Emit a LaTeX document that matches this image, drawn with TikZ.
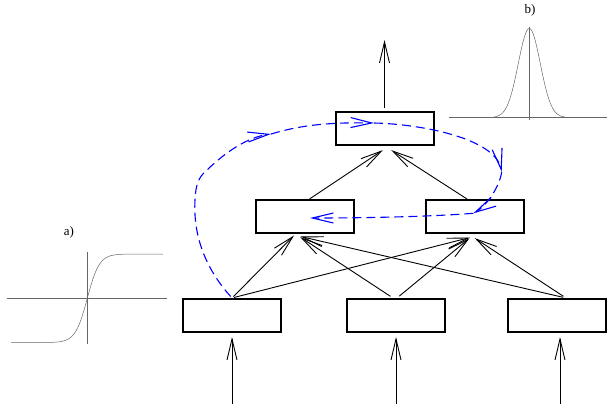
\documentclass[tikz,border=0pt]{standalone}
\usepackage{fontspec}
\setmainfont{Liberation Serif}
\usetikzlibrary{arrows.meta}
\newcommand\XA{232}
\newcommand\XB{396}
\newcommand\XC{557}
\newcommand\XL{304.5}
\newcommand\XR{475}
\newcommand\XT{384.5}
\newcommand\YI{315.5}
\newcommand\YH{216.5}
\newcommand\YO{128.5}

\begin{document}
\begin{tikzpicture}
  [x=1pt, y=-1pt,
   >={Straight Barb[length=21pt, width=10pt]},
   unitbox/.style = {
     draw, line width=2pt, inner sep=0pt,
     minimum width=98pt, minimum height=33pt
   },
   wire/.style = {
     line width=0.9pt
   },
   feedback/.style = {
     draw=blue, line width=1.1pt, dash pattern=on 9pt off 5pt
   },
   curve/.style = {
     draw=black!60, line width=0.5pt
   },
   plotlabel/.style = {
     font=\fontsize{13}{15}\selectfont
   }]

  \useasboundingbox (0,0) rectangle (607,412);

  % Input layer.
  \node[unitbox] at (\XA, \YI) (in1) {};
  \node[unitbox] at (\XB, \YI) (in2) {};
  \node[unitbox] at (\XC, \YI) (in3) {};

  % Hidden layer.
  \node[unitbox] at (\XL, \YH) (hid1) {};
  \node[unitbox] at (\XR, \YH) (hid2) {};

  % Output unit.
  \node[unitbox] at (\XT, \YO) (out) {};

  \coordinate (x1) at (\XA, 404);
  \coordinate (x2) at (\XB, 404);
  \coordinate (x3) at (\XC+3, 404);
  \coordinate (y) at (\XT, 40);

	% Draw all vertical wires.
	\draw[wire, ->, shorten >=4pt] (x1) -- (x1 |- in1.south);
	\draw[wire, ->, shorten >=4pt] (x2) -- (x2 |- in2.south);
	\draw[wire, ->, shorten >=4pt] (x3) -- (x3 |- in3.south);
	\draw[wire, ->, shorten <=3pt] (out) -- (y);

	% Input to hidden.
	\draw[wire, ->, shorten <=2pt, shorten >=2pt] (in1.north) -- ([xshift=-9pt]hid1.south);
	\draw[wire, ->, shorten <=3pt, shorten >=2pt] ([xshift=-3pt]in2.north) -- ([shift={(-6pt,-2pt)}]hid1.south);
	\draw[wire, ->, shorten <=3pt, shorten >=2pt] ([xshift=9pt]in3.north) -- ([shift={(-6pt,-2pt)}]hid1.south);
	\draw[wire, ->, shorten <=2pt, shorten >=2pt] (in1.north) -- ([shift={(-3pt,-3pt)}]hid2.south);
	\draw[wire, ->, shorten <=3pt, shorten >=2pt] ([xshift=1pt]in2.north) -- ([shift={(-4pt,-3pt)}]hid2.south);
	\draw[wire, ->, shorten <=3pt, shorten >=2pt] ([xshift=9pt]in3.north) -- ([shift={(-2pt,-3pt)}]hid2.south);

	% Hidden to output.
	\draw[wire, ->, shorten >=2pt] ([xshift=5pt]hid1.north) -- ([yshift=-3pt]out.south);
	\draw[wire, ->, shorten >=2pt] ([xshift=-8pt]hid2.north) -- ([shift={(5pt,-3pt)}]out.south);

	% Feedback loop.
	\coordinate (f1) at (271,134);
	\coordinate (f2) at (374,123);
	\coordinate (f3) at (501.7,171.7);
	\coordinate (f4) at (473.3,213.3);
	\coordinate (f5) at (310,218);
	\draw[feedback, ->, shorten <=2pt] (in1.north) .. controls (205,268) and (193,235) .. (195,200)
	  .. controls (195.5,185) and (199,177) .. (205,172) .. controls (225,152) and (248,137) .. (f1);
	\draw[feedback, ->] (f1) .. controls (295,127) and (320,122) .. (f2);
	\draw[feedback, ->] (f2) .. controls (420,124) and (495,138) .. (f3);
	\draw[feedback, ->] (f3) .. controls (500,185) and (488,205) .. (f4);
	\draw[feedback, ->] (f4) .. controls (440,216) and (380,218) .. (f5);

	% a) sigmoid.
	\node[plotlabel] at (69, 232) (la) {a)};
	\draw[curve] (6.7, 298.3) -- (167, 298.3);
	\draw[curve] (87.3, 251.7) -- (87.3, 344);
	\draw[curve] plot[domain=11:163, samples=80, smooth] (\x, {298.3 - 44.3*tanh((\x-87.3)/12)});

	% b) gaussian.
	\node[plotlabel] at (530, 10) (lb) {b)};
	\draw[curve] (449.3, 117.5) -- (607, 117.5);
	\draw[curve] (529.3, 27) -- (529.3, 120);
	\draw[curve] plot[domain=494:565, samples=80, smooth] (\x, {117.5 - 89*exp(-((\x-529.3)^2)/242)});

\end{tikzpicture}
\end{document}
